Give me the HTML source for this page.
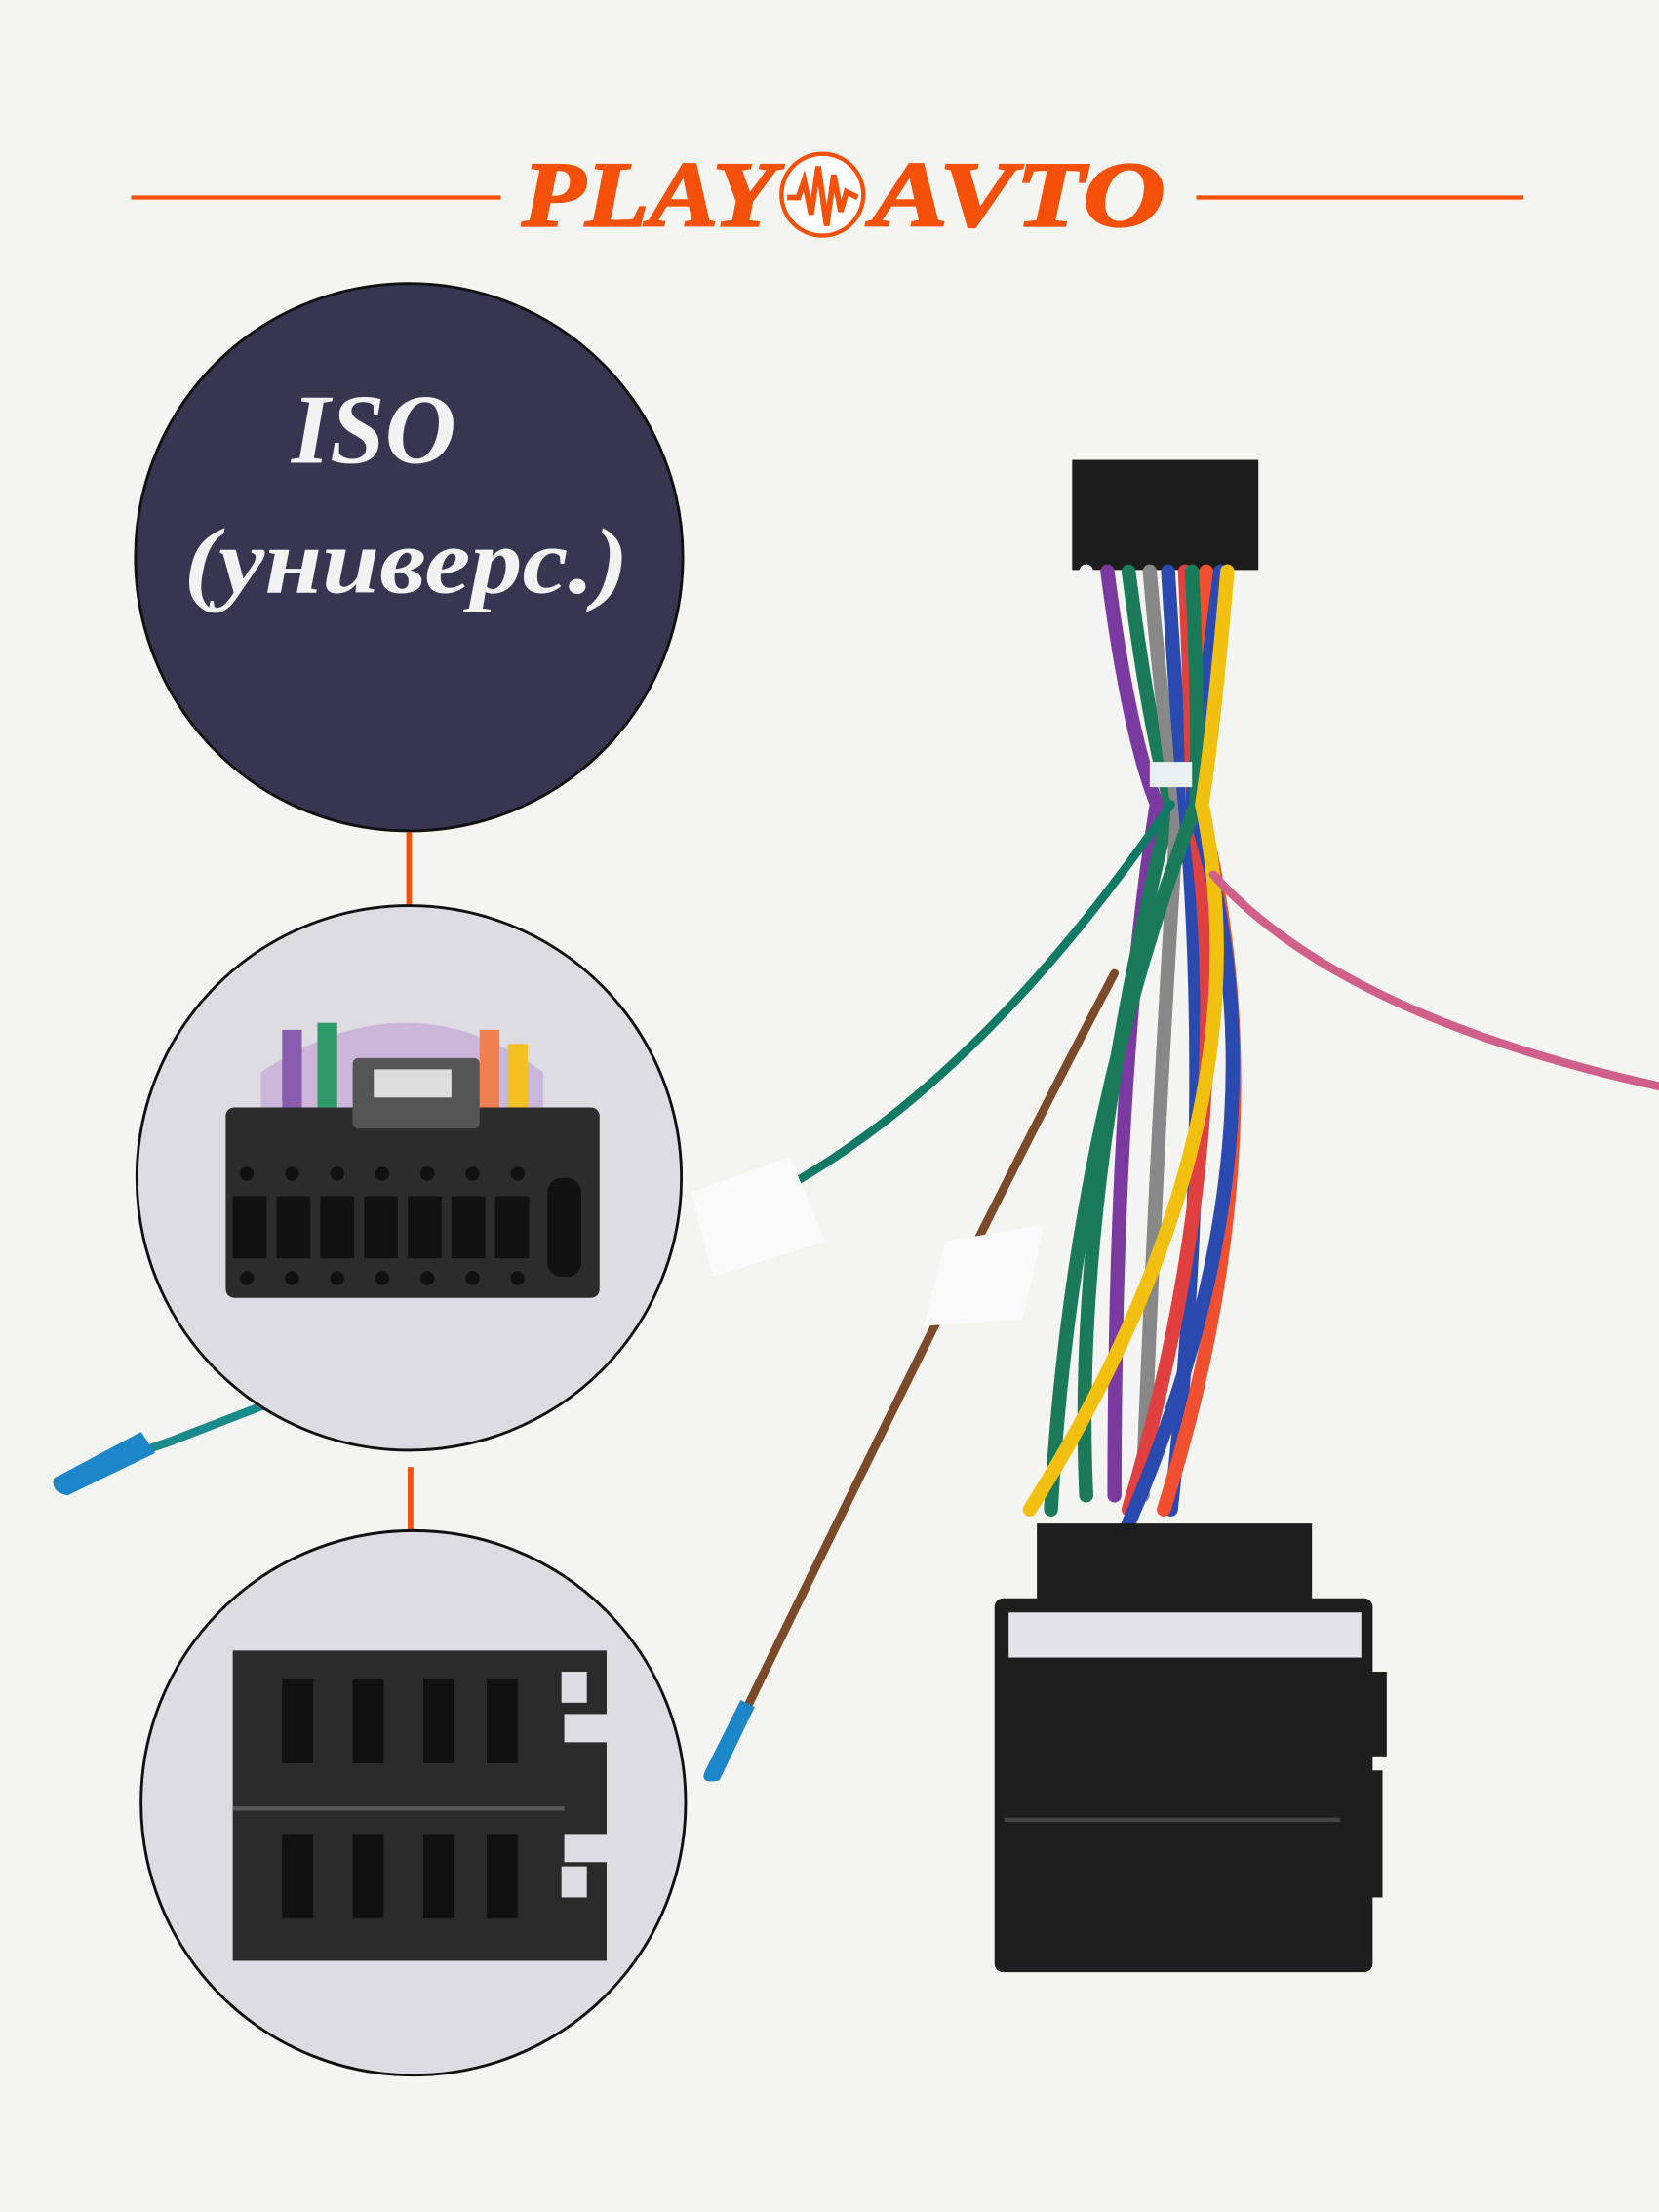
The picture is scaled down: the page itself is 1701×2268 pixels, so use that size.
<!DOCTYPE html>
<html><head><meta charset="utf-8"><style>
html,body{margin:0;padding:0;background:#f4f4f0;}
svg{display:block;}
</style></head><body>
<svg width="1701" height="2268" viewBox="0 0 1176 1568" xmlns="http://www.w3.org/2000/svg">
<rect width="1176" height="1568" fill="#f4f4f0"/>
<line x1="93" y1="140" x2="355" y2="140" stroke="#f5500a" stroke-width="3"/>
<line x1="848" y1="140" x2="1080" y2="140" stroke="#f5500a" stroke-width="3"/>
<text x="370" y="160" textLength="180" lengthAdjust="spacingAndGlyphs" font-family="Liberation Serif, serif" font-style="italic" font-weight="bold" font-size="66" fill="#f5500a" stroke="#f5500a" stroke-width="1.5">PLAY</text>
<text x="618" y="160" textLength="208" lengthAdjust="spacingAndGlyphs" font-family="Liberation Serif, serif" font-style="italic" font-weight="bold" font-size="66" fill="#f5500a" stroke="#f5500a" stroke-width="1.5">AVTO</text>
<circle cx="583" cy="138" r="29" fill="#fff" stroke="#f5500a" stroke-width="3"/>
<path d="M558 140 L566 140 L570 128 L575 152 L580 118 L586 160 L591 124 L596 150 L600 136 L608 140" fill="none" stroke="#f5500a" stroke-width="4"/>
<circle cx="290" cy="395" r="194" fill="#363650" stroke="#111" stroke-width="2"/>
<text x="265" y="328" text-anchor="middle" font-family="Liberation Serif, serif" font-style="italic" font-weight="bold" font-size="70" fill="#f2f2f2">ISO</text>
<text x="288" y="420" text-anchor="middle" textLength="315" lengthAdjust="spacingAndGlyphs" font-family="Liberation Serif, serif" font-style="italic" font-weight="bold" font-size="66" fill="#f2f2f2">(универс.)</text>
<line x1="290" y1="590" x2="290" y2="645" stroke="#f5500a" stroke-width="4"/>
<line x1="291" y1="1040" x2="291" y2="1085" stroke="#f5500a" stroke-width="4"/>
<path d="M40 1050 L120 1022 L190 995" stroke="#1a8a8a" stroke-width="6" fill="none"/>
<path d="M38 1048 Q36 1058 48 1060 L110 1030 L100 1015 Z" fill="#1c86c8"/>
<circle cx="290" cy="835" r="193" fill="#dcdce2" stroke="#111" stroke-width="2"/>
<path d="M185 760 Q290 690 385 760 L385 800 L185 800 Z" fill="#c9b6d9"/>
<rect x="200" y="730" width="14" height="60" fill="#8a5cb0"/><rect x="225" y="725" width="14" height="60" fill="#2e9a6a"/>
<rect x="340" y="730" width="14" height="60" fill="#f08050"/><rect x="360" y="740" width="14" height="60" fill="#f2c020"/>
<rect x="160" y="785" width="265" height="135" rx="6" fill="#2c2c2c"/>
<rect x="250" y="750" width="90" height="50" rx="4" fill="#555"/>
<rect x="265" y="758" width="55" height="20" fill="#ddd"/>
<g fill="#111">
<circle cx="175" cy="832" r="5"/><circle cx="207" cy="832" r="5"/><circle cx="239" cy="832" r="5"/><circle cx="271" cy="832" r="5"/><circle cx="303" cy="832" r="5"/><circle cx="335" cy="832" r="5"/><circle cx="367" cy="832" r="5"/>
<circle cx="175" cy="906" r="5"/><circle cx="207" cy="906" r="5"/><circle cx="239" cy="906" r="5"/><circle cx="271" cy="906" r="5"/><circle cx="303" cy="906" r="5"/><circle cx="335" cy="906" r="5"/><circle cx="367" cy="906" r="5"/>
<rect x="165" y="848" width="24" height="44"/><rect x="196" y="848" width="24" height="44"/><rect x="227" y="848" width="24" height="44"/><rect x="258" y="848" width="24" height="44"/><rect x="289" y="848" width="24" height="44"/><rect x="320" y="848" width="24" height="44"/><rect x="351" y="848" width="24" height="44"/>
<rect x="388" y="835" width="24" height="70" rx="10"/>
</g>
<circle cx="293" cy="1278" r="193" fill="#dcdce2" stroke="#111" stroke-width="2"/>
<path d="M165 1170 L430 1170 L430 1215 L400 1215 L400 1235 L430 1235 L430 1300 L400 1300 L400 1320 L430 1320 L430 1390 L165 1390 Z" fill="#2a2a2a"/>
<rect x="398" y="1185" width="18" height="22" fill="#dcdce2"/>
<rect x="398" y="1323" width="18" height="22" fill="#dcdce2"/>
<line x1="165" y1="1282" x2="400" y2="1282" stroke="#555" stroke-width="3"/>
<g fill="#111">
<rect x="200" y="1190" width="22" height="60"/><rect x="250" y="1190" width="22" height="60"/><rect x="300" y="1190" width="22" height="60"/><rect x="345" y="1190" width="22" height="60"/>
<rect x="200" y="1300" width="22" height="60"/><rect x="250" y="1300" width="22" height="60"/><rect x="300" y="1300" width="22" height="60"/><rect x="345" y="1300" width="22" height="60"/>
</g>
<rect x="760" y="326" width="132" height="78" fill="#1c1c1c"/>
<g fill="none" stroke-width="10" stroke-linecap="round">
<path d="M770 405 Q790 520 815 570 Q805 800 800 1060" stroke="#f4f4f4"/>
<path d="M785 405 Q800 520 820 570 Q790 750 790 1060" stroke="#7a3aa0"/>
<path d="M800 405 Q815 520 830 570 Q760 850 770 1060" stroke="#1a7a5a"/>
<path d="M815 405 Q825 520 835 570 Q820 800 810 1060" stroke="#888"/>
<path d="M828 405 Q835 520 840 570 Q860 800 830 1070" stroke="#2a4ab0"/>
<path d="M840 405 Q845 520 845 570 Q880 800 800 1070" stroke="#e04040"/>
<path d="M855 405 Q855 520 850 570 Q910 800 825 1070" stroke="#f05030"/>
<path d="M865 405 Q850 520 845 570 Q920 800 800 1080" stroke="#2a4ab0"/>
<path d="M845 405 Q850 520 848 570 Q760 800 745 1070" stroke="#1a7a5a"/>
<path d="M870 405 Q860 520 852 570 Q900 800 730 1070" stroke="#f2c010"/>
</g>
<g fill="none" stroke-width="6" stroke-linecap="round">
<path d="M830 570 Q700 760 560 840" stroke="#117a66"/>
<path d="M860 620 Q950 720 1176 770" stroke="#d0608a"/>
<path d="M790 690 Q700 860 520 1230" stroke="#7a4a2a"/>
</g>
<rect x="815" y="540" width="30" height="18" fill="#e8f0f0"/>
<path d="M490 845 L560 820 L585 880 L505 905 Z" fill="#fafafa"/>
<path d="M670 880 L740 868 L725 935 L655 940 Z" fill="#fafafa"/>
<path d="M500 1255 Q495 1265 510 1262 L535 1210 L525 1205 Z" fill="#1c86c8"/>
<rect x="735" y="1080" width="195" height="60" fill="#1e1e1e"/>
<rect x="705" y="1133" width="268" height="265" rx="6" fill="#1e1e1e"/>
<rect x="715" y="1143" width="250" height="32" fill="#e4e4ea"/>
<rect x="948" y="1185" width="35" height="60" fill="#1e1e1e"/>
<rect x="948" y="1255" width="32" height="90" fill="#1e1e1e"/>
<line x1="712" y1="1290" x2="950" y2="1290" stroke="#444" stroke-width="3"/>
</svg>
</body></html>
